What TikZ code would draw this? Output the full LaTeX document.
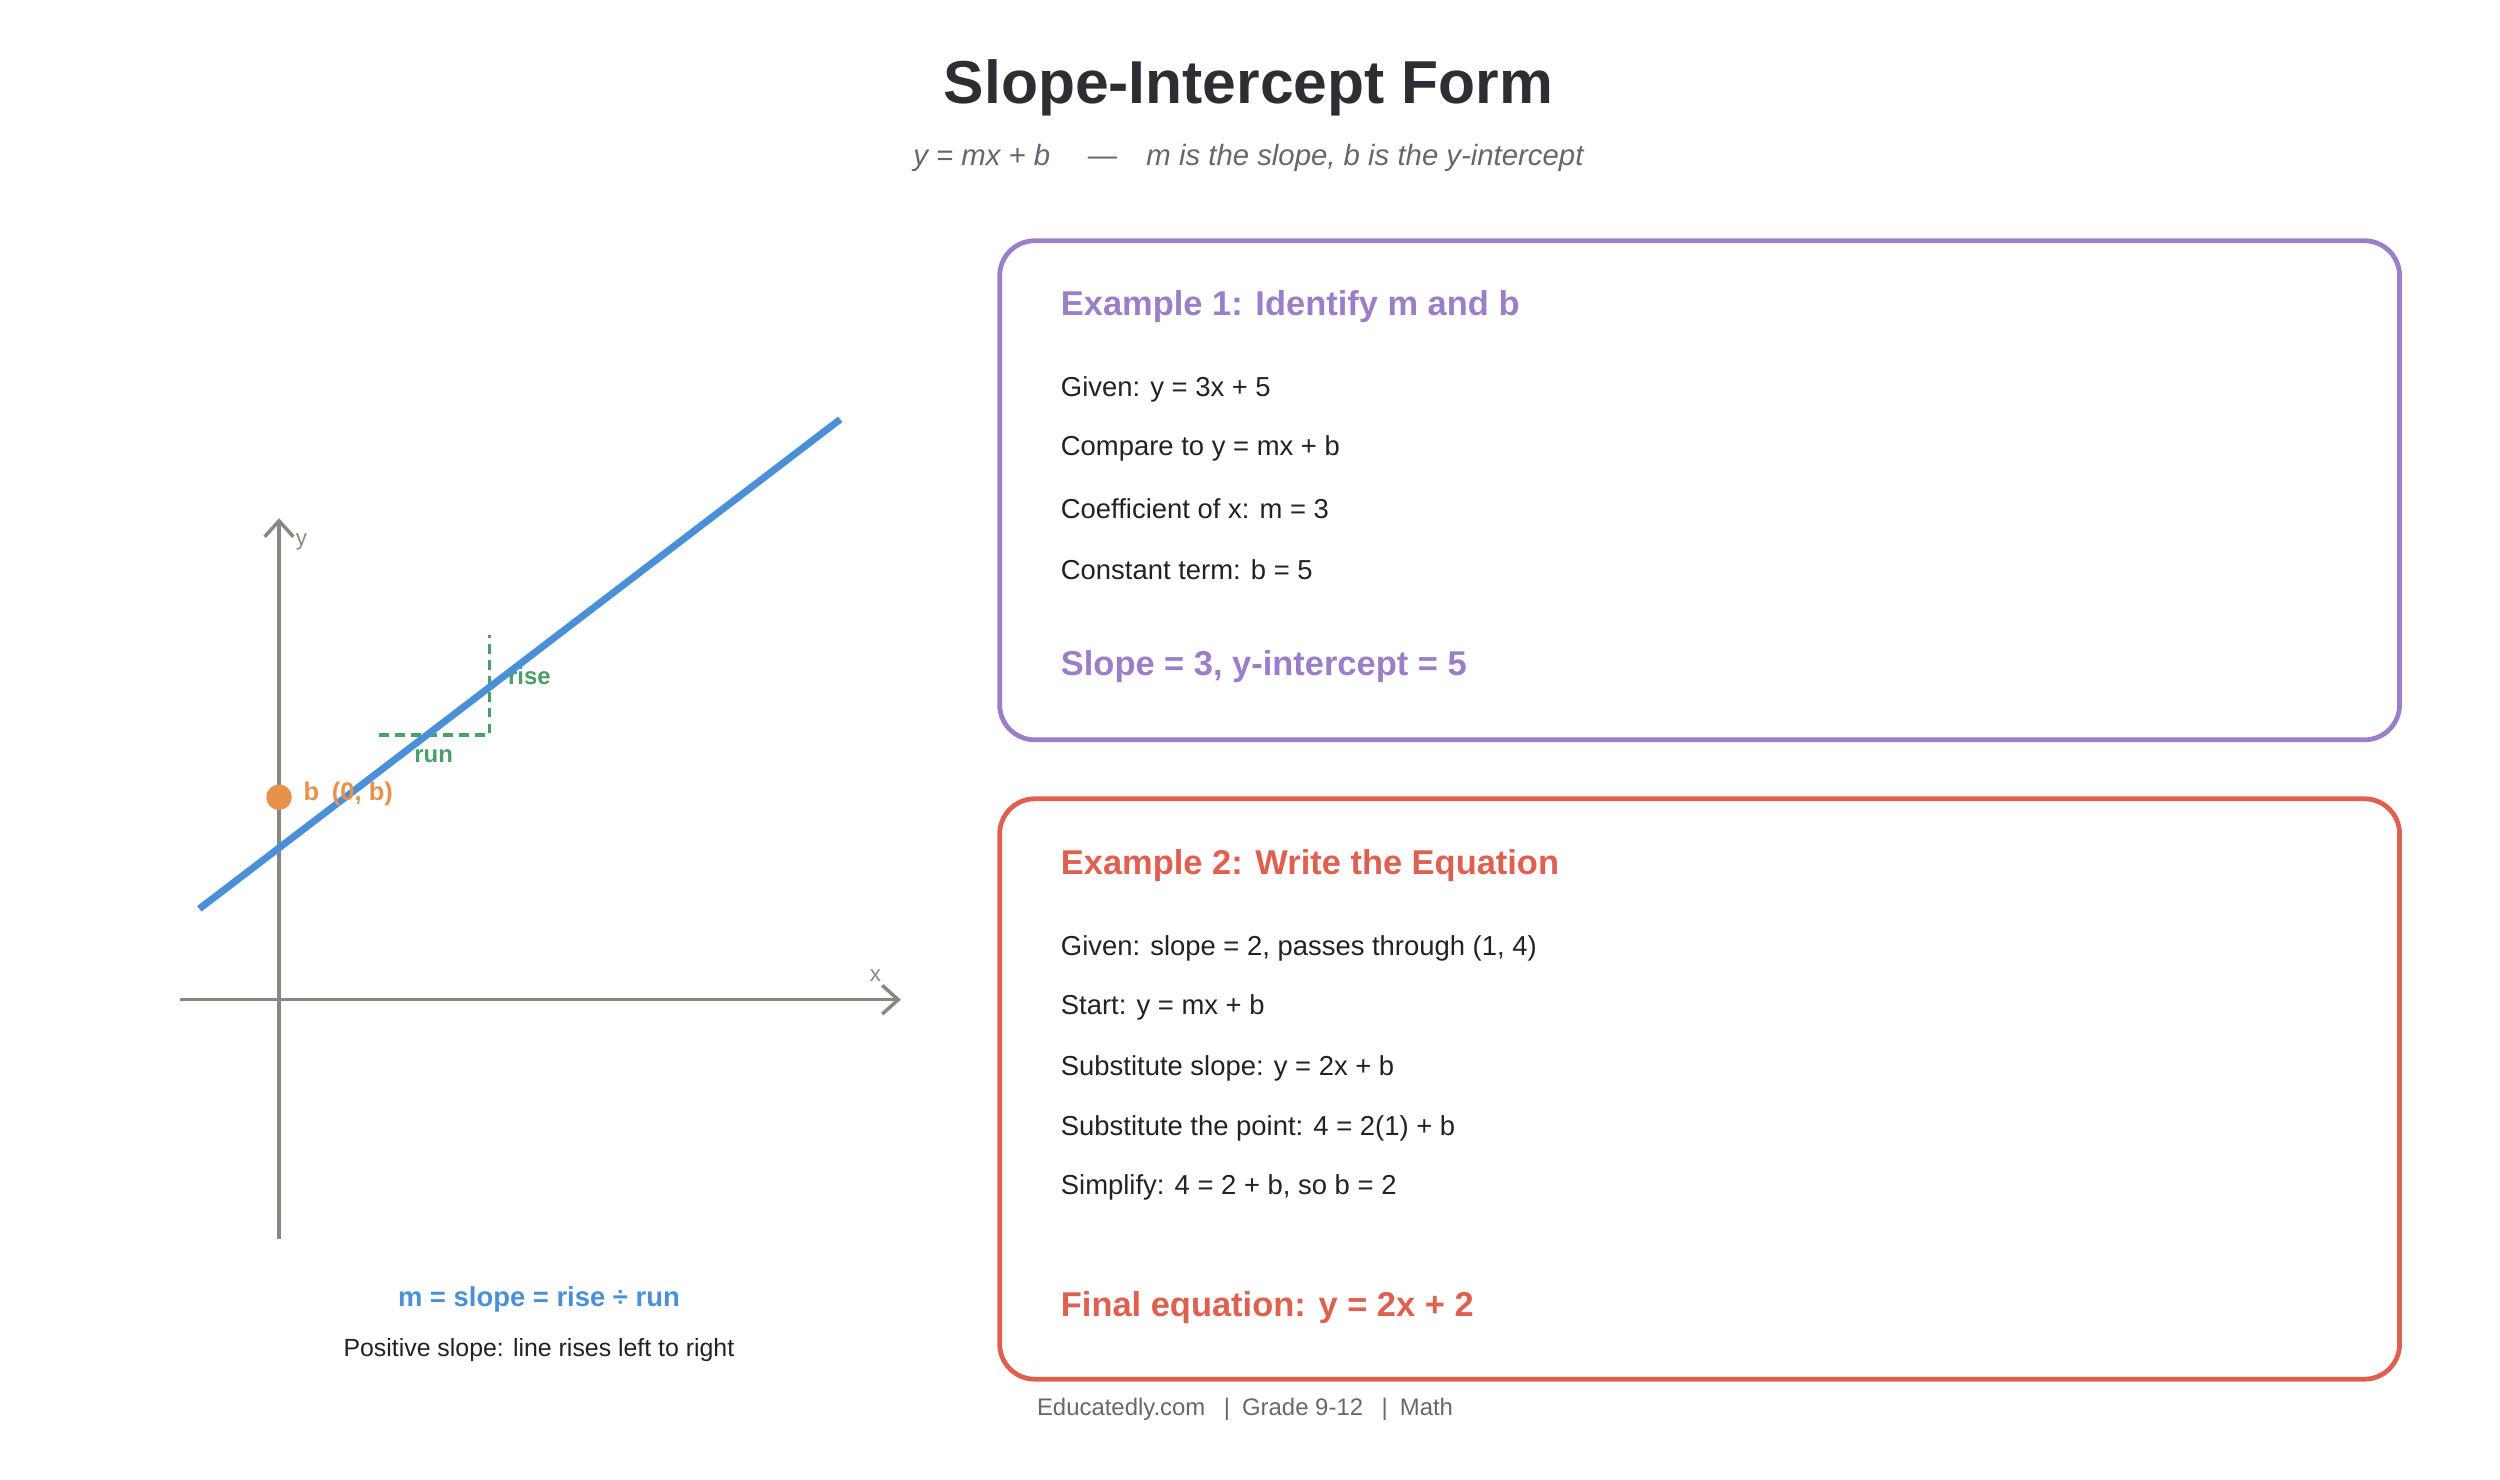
\documentclass[tikz,border=0pt]{standalone}
\usepackage{fontspec}
\setmainfont{Liberation Sans}
\usetikzlibrary{arrows.meta}
\definecolor{titlec}{HTML}{2D2D33}
\definecolor{subc}{HTML}{666670}
\definecolor{axisc}{HTML}{888880}
\definecolor{bluec}{HTML}{4A90D9}
\definecolor{orangec}{HTML}{E8914A}
\definecolor{greenc}{HTML}{4A9E6A}
\definecolor{purplec}{HTML}{9B7EC8}
\definecolor{redc}{HTML}{E0604F}
\definecolor{textc}{HTML}{222222}
\begin{document}
\begin{tikzpicture}[x=0.5pt,y=-0.5pt,
  body/.style={anchor=west,font=\fontsize{8.6}{10}\selectfont,text=textc,inner sep=0},
  head/.style={anchor=west,font=\fontsize{10.8}{12}\selectfont\bfseries,inner sep=0},
  box/.style={rounded corners=11pt,line width=1.5pt},
  axis/.style={axisc,line width=1.1pt,-{Straight Barb[length=5pt,width=9pt]}},
  small/.style={font=\fontsize{7}{8}\selectfont,text=axisc,inner sep=0}]
\useasboundingbox (0,0) rectangle (1568,928);
\node[font=\fontsize{19}{22}\selectfont\bfseries,text=titlec] (title) at (783,55) {Slope-Intercept Form};
\node[font=\fontsize{9.2}{11}\selectfont\itshape,text=subc] (sub) at (783,99) {y = mx + b \quad—\quad m is the slope, b is the y-intercept};
% axes
\coordinate (yb) at (175,777); \coordinate (yt) at (175,325);
\coordinate (xl) at (113,627); \coordinate (xr) at (565,627);
\draw[axis] (yb) -- (yt);
\draw[axis] (xl) -- (xr);
\node[small] (ylab) at (189,340) {y};
\node[small] (xlab) at (549,612) {x};
% rise/run
\coordinate (r1) at (238,461); \coordinate (r2) at (307,461); \coordinate (r3) at (307,398);
\draw[greenc,dashed,line width=1pt,dash pattern=on 3pt off 2pt] (r1) -- (r2) -- (r3);
\node[font=\fontsize{7.5}{9}\selectfont\bfseries,text=greenc] (rise) at (332,424) {rise};
\node[font=\fontsize{7.5}{9}\selectfont\bfseries,text=greenc] (run) at (272,474) {run};
% line
\coordinate (l1) at (125,570); \coordinate (l2) at (527,263);
\draw[bluec,line width=2.2pt] (l1) -- (l2);
\fill[orangec] (175,500) circle (4pt);
\node[anchor=west,font=\fontsize{8}{9}\selectfont\bfseries,text=orangec,inner sep=0] (blab) at (190,498) {b\enspace(0, b)};
\node[font=\fontsize{8.6}{10}\selectfont\bfseries,text=bluec] (mform) at (338,815) {m = slope = rise ÷ run};
\node[font=\fontsize{7.8}{9}\selectfont,text=textc] (pos) at (338,847) {Positive slope: line rises left to right};
% box 1
\draw[box,purplec] (627,151) rectangle (1505,464);
\node[head,text=purplec] (e1) at (665,192) {Example 1: Identify m and b};
\node[body] (a1) at (665,244) {Given: y = 3x + 5};
\node[body] (a2) at (665,281) {Compare to y = mx + b};
\node[body] (a3) at (665,319) {Coefficient of x: m = 3};
\node[body] (a4) at (665,357) {Constant term: b = 5};
\node[head,text=purplec] (a5) at (665,418) {Slope = 3, y-intercept = 5};
% box 2
\draw[box,redc] (627,501) rectangle (1505,865);
\node[head,text=redc] (e2) at (665,543) {Example 2: Write the Equation};
\node[body] (b1) at (665,595) {Given: slope = 2, passes through (1, 4)};
\node[body] (b2) at (665,632) {Start: y = mx + b};
\node[body] (b3) at (665,670) {Substitute slope: y = 2x + b};
\node[body] (b4) at (665,708) {Substitute the point: 4 = 2(1) + b};
\node[body] (b5) at (665,745) {Simplify: 4 = 2 + b, so b = 2};
\node[head,text=redc] (b6) at (665,820) {Final equation: y = 2x + 2};
\node[anchor=west,inner sep=0,font=\fontsize{7.5}{9}\selectfont,text=subc] (foot) at (650,884) {Educatedly.com \enspace|\enspace Grade 9-12 \enspace|\enspace Math};
\end{tikzpicture}
\end{document}
